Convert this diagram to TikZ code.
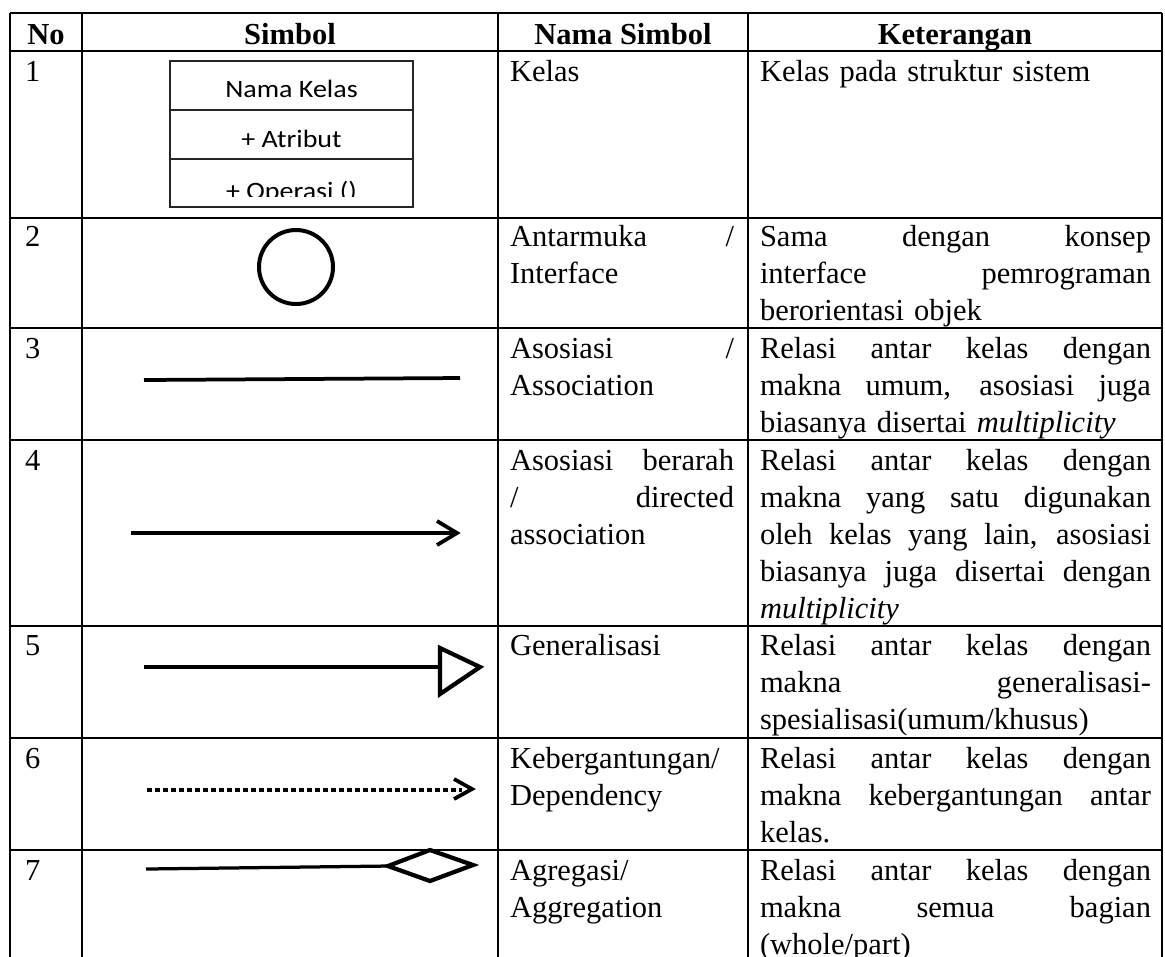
\documentclass[tikz,border=0pt]{standalone}
\usepackage{fontspec}
\setmainfont{Liberation Serif}
\newfontfamily\calibrifont{Carlito}[FakeStretch=1.12]
\newcommand\cellfont{\fontsize{12.2}{14.8}\selectfont}
\newlength\nw \setlength\nw{89.6pt}
\newlength\kw \setlength\kw{156.4pt}
\newcommand\JN[1]{\leavevmode\hbox to\nw{\spaceskip=\fontdimen2\font plus 1fil\relax#1}}
\newcommand\JK[1]{\leavevmode\hbox to\kw{\spaceskip=\fontdimen2\font plus 1fil\relax#1}}
\begin{document}
\begin{tikzpicture}[x=0.4pt,y=-0.4pt,
  rule/.style={line width=0.8pt},
  txt/.style={anchor=base west,inner sep=0pt,outer sep=0pt,font=\cellfont},
  head/.style={anchor=base,inner sep=0pt,outer sep=0pt,font=\cellfont\bfseries},
  namecol/.style={txt,text width=\nw},
  ketcol/.style={txt,text width=\kw},
  clstxt/.style={anchor=base,inner sep=0pt,outer sep=0pt,font=\calibrifont\fontsize{10}{12}\selectfont},
  thin/.style={line width=0.45pt,draw=black!85},
  symline/.style={line width=1.3pt,line cap=butt},
  symhead/.style={line width=1.7pt,line join=miter},
  chevron/.style={line width=1.5pt,line join=miter},
]
\useasboundingbox (0,0) rectangle (1165,956);

% ---- table grid ----
\foreach \yy in {13,51,218,328,440,626,738,850}
  \draw[rule] (10,\yy) -- (1162,\yy);
\foreach \xx in {10,82,498,748,1162}
  \draw[rule] (\xx,13) -- (\xx,962);

% ---- header ----
\node[head] (hNo)  at (46,44)  {No};
\node[head] (hSym) at (290,44) {Simbol};
\node[head] (hNam) at (623,44) {Nama Simbol};
\node[head] (hKet) at (955,44) {Keterangan};

% ---- row numbers ----
\node[txt] (n1) at (25,81)  {1};
\node[txt] (n2) at (25,246) {2};
\node[txt] (n3) at (25,358) {3};
\node[txt] (n4) at (25,470) {4};
\node[txt] (n5) at (25,655) {5};
\node[txt] (n6) at (25,768) {6};
\node[txt] (n7) at (25,880) {7};

% ---- Nama Simbol ----
\node[namecol] (m1) at (510,81)  {Kelas};
\node[namecol] (m2) at (510,246) {\JN{Antarmuka /}\\Interface};
\node[namecol] (m3) at (510,358) {\JN{Asosiasi /}\\Association};
\node[namecol] (m4) at (510,470) {\JN{Asosiasi berarah}\\\JN{/ directed}\\association};
\node[namecol] (m5) at (510,655) {Generalisasi};
\node[namecol] (m6) at (510,768) {Kebergantungan/\\Dependency};
\node[namecol] (m7) at (510,880) {Agregasi/\\Aggregation};

% ---- Keterangan ----
\node[ketcol] (k1) at (760,81)  {Kelas pada struktur sistem};
\node[ketcol] (k2) at (760,246) {\JK{Sama dengan konsep}\\\JK{interface pemrograman}\\berorientasi objek};
\node[ketcol] (k3) at (760,358) {\JK{Relasi antar kelas dengan}\\\JK{makna umum, asosiasi juga}\\biasanya disertai \textit{multiplicity}};
\node[ketcol] (k4) at (760,470) {\JK{Relasi antar kelas dengan}\\\JK{makna yang satu digunakan}\\\JK{oleh kelas yang lain, asosiasi}\\\JK{biasanya juga disertai dengan}\\\textit{multiplicity}};
\node[ketcol] (k5) at (760,655) {\JK{Relasi antar kelas dengan}\\\JK{makna generalisasi-}\\spesialisasi(umum/khusus)};
\node[ketcol] (k6) at (760,768) {\JK{Relasi antar kelas dengan}\\\JK{makna kebergantungan antar}\\kelas.};
\node[ketcol] (k7) at (760,880) {\JK{Relasi antar kelas dengan}\\\JK{makna semua bagian}\\(whole/part)};

% ---- symbol 1: class box ----
\draw[thin] (170,61) rectangle (413,207);
\draw[thin] (170,110) -- (413,110);
\draw[thin] (170,159) -- (413,159);
\node[clstxt] (cName) at (291.5,97) {Nama Kelas};
\node[clstxt] (cAttr) at (291.5,147) {+ Atribut};
\begin{scope}
  \clip (171,160) rectangle (412,196);
  \node[clstxt] (cOper) at (291.5,199) {+ Operasi ()};
\end{scope}

% ---- symbol 2: interface circle ----
\node[circle,draw,line width=1.6pt,minimum size=29.6pt,inner sep=0pt] (iface) at (296,267) {};

% ---- symbol 3: association ----
\coordinate (a3s) at (144,380);
\coordinate (a3e) at (460,378);
\draw[symline,line width=1.5pt] (a3s) -- (a3e);

% ---- symbol 4: directed association ----
\coordinate (a4s) at (131,533);
\coordinate (a4e) at (455,533);
\coordinate (a4t) at (457,533);
\draw[symline] (a4s) -- (a4e);
\draw[chevron] (437,521) -- (a4t) -- (437,545);

% ---- symbol 5: generalisation ----
\coordinate (a5s) at (144,667);
\coordinate (a5e) at (440,667);
\draw[symline] (a5s) -- (a5e);
\draw[symhead,fill=white] (440,648) -- (480,667) -- (440,694) -- cycle;

% ---- symbol 6: dependency ----
\coordinate (a6s) at (147,790);
\coordinate (a6e) at (462,790);
\coordinate (a6t) at (472,789);
\draw[line width=1.3pt,dash pattern=on 1.9pt off 1.3pt] (a6s) -- (a6e);
\draw[chevron] (454,779) -- (a6t) -- (454,799);

% ---- symbol 7: aggregation ----
\coordinate (a7s) at (146,869);
\coordinate (a7e) at (389,866);
\draw[symline] (a7s) -- (a7e);
\draw[symhead,fill=white] (388,866) -- (430,850) -- (473,865) -- (430,881) -- cycle;
\end{tikzpicture}
\end{document}
